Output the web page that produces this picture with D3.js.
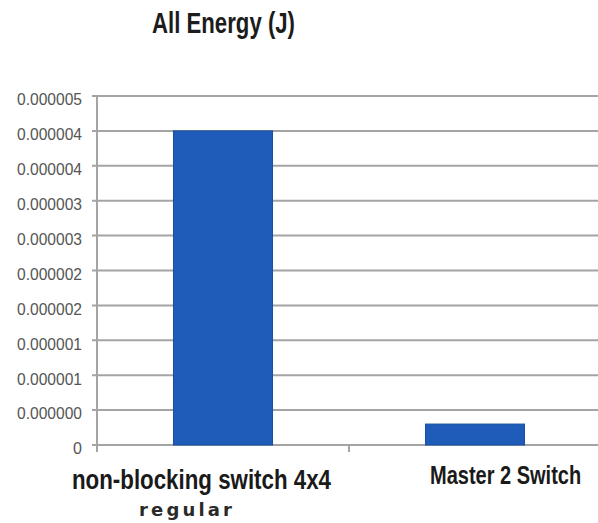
<!DOCTYPE html>
<html>
<head>
<meta charset="utf-8">
<script src="https://cdn.jsdelivr.net/npm/d3@7"></script>
<style>
  html, body { margin: 0; padding: 0; background: #fff; }
  svg { display: block; }
</style>
</head>
<body>
<svg id="chart" width="598" height="523"></svg>
<script>
// Energy per configuration, joules
const categories = ["non-blocking switch 4x4", "Master 2 Switch"];
const energy = [0.0000045, 0.0000003];
const tickValues = [0, 0.0000005, 0.000001, 0.0000015, 0.000002, 0.0000025,
                    0.000003, 0.0000035, 0.000004, 0.0000045, 0.000005];
const tickLabels = ["0", "0.000000", "0.000001", "0.000001", "0.000002", "0.000002",
                    "0.000003", "0.000003", "0.000004", "0.000004", "0.000005"];
const chartTitle = "All Energy (J)";
const subLabel = "regular";

const svg = d3.select("#chart");
const W = 598, H = 523;
const plot = { left: 97, right: 601, top: 96, bottom: 445 };
const gridColor = "#a4a4a4";

const x = d3.scaleBand()
  .domain(categories)
  .range([plot.left, plot.right])
  .paddingInner(0.607)
  .paddingOuter(0.3035);

// category boundaries for the bottom tick marks
const xCat = d3.scaleBand().domain(categories).range([plot.left, plot.right]).padding(0);

const y = d3.scaleLinear().domain([0, 0.000005]).range([plot.bottom, plot.top]);

// horizontal gridlines with left tick stubs
svg.append("g")
  .selectAll("line")
  .data(tickValues)
  .join("line")
  .attr("x1", plot.left - 5)
  .attr("x2", W + 2)
  .attr("y1", d => y(d))
  .attr("y2", d => y(d))
  .attr("stroke", gridColor)
  .attr("stroke-width", 2);

// y axis labels
const yAxis = d3.axisLeft(y)
  .tickValues(tickValues)
  .tickFormat((d, i) => tickLabels[i])
  .tickSize(0)
  .tickPadding(15);
const gy = svg.append("g").attr("transform", `translate(${plot.left},0)`).call(yAxis);
gy.select(".domain").remove();
gy.selectAll("text")
  .attr("font-family", "'Liberation Sans', Arial, sans-serif")
  .attr("font-size", 16)
  .attr("fill", "#555")
  .attr("dy", "0.55em")
  .attr("textLength", (d, i) => tickLabels[i].length > 1 ? 65 : null)
  .attr("lengthAdjust", "spacingAndGlyphs");

// vertical axis line
svg.append("line")
  .attr("x1", plot.left).attr("x2", plot.left)
  .attr("y1", plot.top).attr("y2", plot.bottom + 7)
  .attr("stroke", gridColor).attr("stroke-width", 2);

// bottom category tick marks
const boundaries = [xCat(categories[0]), xCat(categories[1]), xCat(categories[1]) + xCat.bandwidth()];
svg.append("g")
  .selectAll("line")
  .data(boundaries.slice(1))
  .join("line")
  .attr("x1", d => d).attr("x2", d => d)
  .attr("y1", plot.bottom).attr("y2", plot.bottom + 7)
  .attr("stroke", gridColor).attr("stroke-width", 2);

// bars
svg.append("g")
  .selectAll("rect")
  .data(categories)
  .join("rect")
  .attr("x", d => x(d))
  .attr("width", x.bandwidth())
  .attr("y", (d, i) => y(energy[i]))
  .attr("height", (d, i) => y(0) - y(energy[i]))
  .attr("fill", "#1f5cb9")
  .attr("stroke", "#1a4f9f")
  .attr("stroke-width", 1);

// title
svg.append("text")
  .attr("x", 152)
  .attr("y", 33)
  .attr("font-family", "'Liberation Sans', Arial, sans-serif")
  .attr("font-weight", "bold")
  .attr("font-size", 30)
  .attr("fill", "#1c1c1c")
  .attr("textLength", 143)
  .attr("lengthAdjust", "spacingAndGlyphs")
  .text(chartTitle);

// category labels: condensed, tall lettering (small size stretched vertically)
const labelShift = [-151, -45];
const labelSize = [22.3, 20];
const labelBase = [489, 484];
svg.append("g")
  .selectAll("text")
  .data(categories)
  .join("text")
  .attr("transform", (d, i) =>
    `translate(${x(d) + x.bandwidth() / 2 + labelShift[i]},${labelBase[i]}) scale(1,1.28)`)
  .attr("font-family", "'Liberation Sans', Arial, sans-serif")
  .attr("font-weight", "bold")
  .attr("font-size", (d, i) => labelSize[i])
  .attr("fill", "#1a1a1a")
  .text(d => d);

svg.append("text")
  .attr("x", 139)
  .attr("y", 516)
  .attr("font-family", "'DejaVu Sans', Verdana, sans-serif")
  .attr("font-weight", "bold")
  .attr("font-size", 18)
  .attr("fill", "#2a2a2a")
  .attr("textLength", 93)
  .attr("lengthAdjust", "spacing")
  .text(subLabel);
</script>
</body>
</html>
